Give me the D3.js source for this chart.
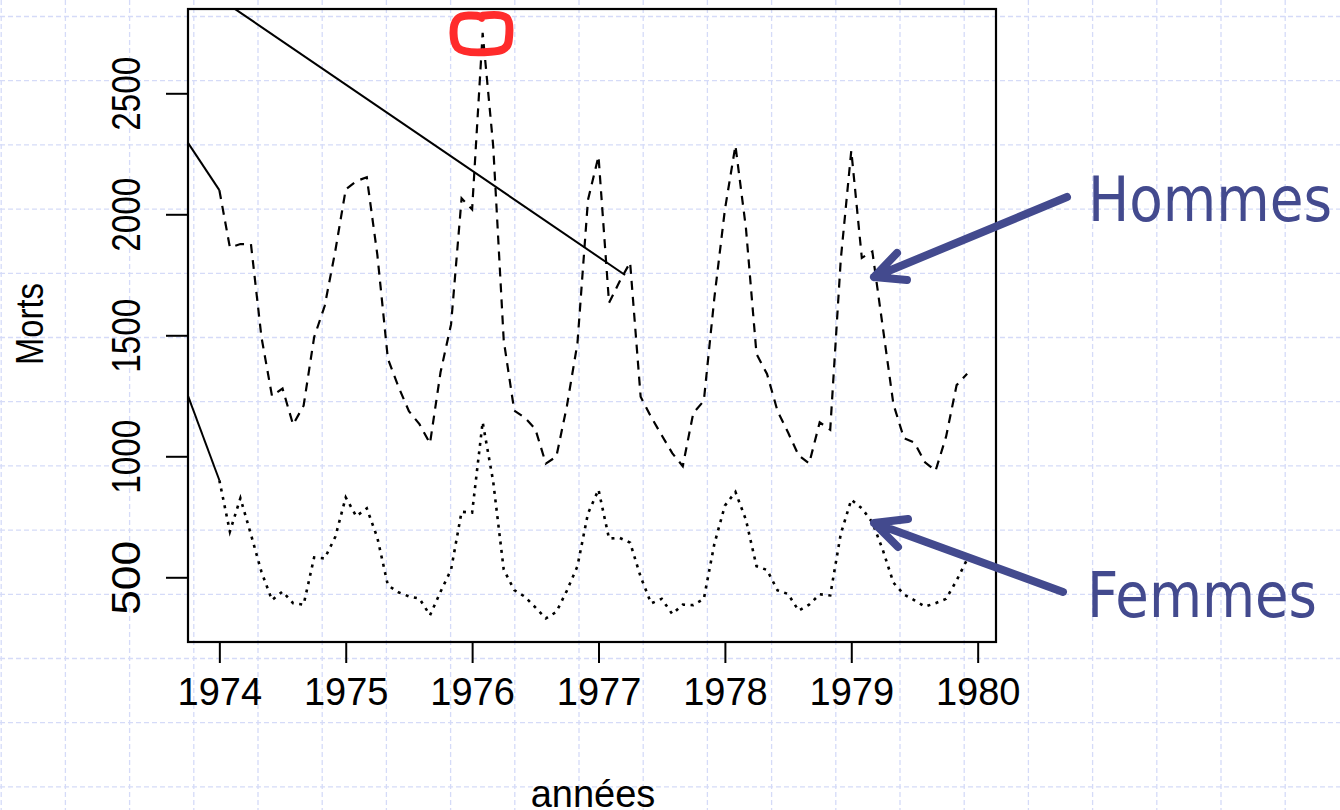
<!DOCTYPE html>
<html>
<head>
<meta charset="utf-8">
<script src="https://cdn.jsdelivr.net/npm/d3@7"></script>
<style>
  html, body { margin: 0; padding: 0; background: #fff; }
  svg { display: block; }
</style>
</head>
<body>
<svg id="chart" width="1340" height="810"></svg>
<script>
// monthly deaths, Jan 1974 .. Dec 1979
var years = [1974, 1975, 1976, 1977, 1978, 1979];
var hommes = [
  2100, 1863, 1877, 1877, 1492, 1249, 1280, 1131, 1209, 1492, 1621, 1846,
  2103, 2137, 2153, 1833, 1403, 1288, 1186, 1133, 1053, 1347, 1545, 2066,
  2020, 2750, 2283, 1479, 1189, 1160, 1113, 970, 999, 1208, 1467, 2059,
  2240, 1634, 1722, 1801, 1246, 1162, 1087, 1013, 959, 1179, 1229, 1655,
  2019, 2284, 1942, 1423, 1340, 1187, 1098, 1004, 970, 1140, 1110, 1812,
  2263, 1820, 1846, 1531, 1215, 1075, 1056, 975, 940, 1081, 1294, 1341
];
var femmes = [
  901, 689, 827, 677, 522, 406, 441, 393, 387, 582, 578, 666,
  830, 752, 785, 664, 467, 438, 421, 412, 343, 440, 531, 771,
  767, 1141, 896, 532, 447, 420, 376, 330, 357, 445, 546, 764,
  862, 660, 663, 643, 502, 392, 411, 348, 387, 385, 411, 638,
  796, 853, 737, 546, 530, 446, 431, 362, 387, 430, 425, 679,
  821, 785, 727, 612, 478, 429, 405, 379, 393, 411, 487, 574
];
// stray solid segments seen in the picture (year, deaths)
var leadHommes = [[1973.752, 2295], [1974, 2100]];
var leadFemmes = [[1973.752, 1250], [1974, 901]];
var trendLine = [[1974.125, 2848], [1977.21, 1749]];

var xTicks = [1974, 1975, 1976, 1977, 1978, 1979, 1980];
var yTicks = [500, 1000, 1500, 2000, 2500];
var peak = [1976 + 1 / 12, 2750];

var svg = d3.select("#chart"),
  width = +svg.attr("width"),
  height = +svg.attr("height");

var plot = {left: 188, top: 9, right: 996, bottom: 642};

var x = d3.scaleLinear().domain([1973.752, 1980.145]).range([plot.left, plot.right]);
var y = d3.scaleLinear().domain([232.6, 2848.3]).range([plot.bottom, plot.top]);

// slide background grid
var grid = svg.append("g").attr("class", "grid")
  .attr("stroke", "#d5dbf8")
  .attr("stroke-width", 1.3)
  .attr("stroke-dasharray", "5,3");
grid.selectAll(".gv").data(d3.range(1.2, width, 64.2)).enter().append("line")
  .attr("x1", function(d) { return d; }).attr("x2", function(d) { return d; })
  .attr("y1", 0).attr("y2", height);
grid.selectAll(".gh").data(d3.range(16.5, height, 64.2)).enter().append("line")
  .attr("y1", function(d) { return d; }).attr("y2", function(d) { return d; })
  .attr("x1", 0).attr("x2", width);

svg.append("defs").append("clipPath").attr("id", "clip")
  .append("rect")
  .attr("x", plot.left).attr("y", plot.top)
  .attr("width", plot.right - plot.left).attr("height", plot.bottom - plot.top);

function monthly(vals) {
  return vals.map(function(v, i) { return [years[0] + i / 12, v]; });
}

var line = d3.line()
  .x(function(d) { return x(d[0]); })
  .y(function(d) { return y(d[1]); });

var g = svg.append("g").attr("clip-path", "url(#clip)")
  .attr("fill", "none").attr("stroke", "#000");

g.append("path").datum(monthly(hommes))
  .attr("d", line)
  .attr("stroke-width", 2.2)
  .attr("stroke-dasharray", "9,7");

g.append("path").datum(monthly(femmes))
  .attr("d", line)
  .attr("stroke-width", 2.6)
  .attr("stroke-dasharray", "3,5.5");

[leadHommes, leadFemmes, trendLine].forEach(function(seg) {
  g.append("path").datum(seg)
    .attr("d", line)
    .attr("stroke-width", 2);
});

// frame
svg.append("rect")
  .attr("x", plot.left).attr("y", plot.top)
  .attr("width", plot.right - plot.left).attr("height", plot.bottom - plot.top)
  .attr("fill", "none").attr("stroke", "#000").attr("stroke-width", 2.2);

// x axis
var xAxis = svg.append("g")
  .attr("transform", "translate(0," + plot.bottom + ")")
  .call(d3.axisBottom(x).tickValues(xTicks).tickFormat(d3.format("d"))
    .tickSize(21).tickPadding(42));
xAxis.select(".domain").remove();
xAxis.selectAll("line").attr("stroke", "#000").attr("stroke-width", 2);
xAxis.selectAll("text")
  .attr("fill", "#000")
  .attr("dy", 0)
  .style("font-family", "'Liberation Sans', Arial, sans-serif")
  .style("font-size", "38px");

// y axis
var yAxis = svg.append("g")
  .attr("transform", "translate(" + plot.left + ",0)")
  .call(d3.axisLeft(y).tickValues(yTicks).tickFormat(d3.format("d")).tickSize(22));
yAxis.select(".domain").remove();
yAxis.selectAll("line").attr("stroke", "#000").attr("stroke-width", 2);
yAxis.selectAll("text")
  .attr("x", null).attr("dy", null)
  .attr("fill", "#000")
  .attr("text-anchor", "middle")
  .attr("transform", "translate(-48,0) rotate(-90)")
  .attr("textLength", 74)
  .attr("lengthAdjust", "spacingAndGlyphs")
  .style("font-family", "'Liberation Sans', Arial, sans-serif")
  .style("font-size", "40px");

// axis titles
svg.append("text")
  .attr("transform", "translate(43," + 324 + ") rotate(-90)")
  .attr("text-anchor", "middle")
  .attr("textLength", 82)
  .attr("lengthAdjust", "spacingAndGlyphs")
  .style("font-family", "'Liberation Sans', Arial, sans-serif")
  .style("font-size", "39px")
  .text("Morts");

svg.append("text")
  .attr("x", 593).attr("y", 807)
  .attr("text-anchor", "middle")
  .style("font-family", "'Liberation Sans', Arial, sans-serif")
  .style("font-size", "38px")
  .text("années");

// red mark round the peak
var px = x(peak[0]), py = y(peak[1]);
svg.append("path")
  .attr("transform", "translate(" + px + "," + py + ")")
  .attr("d", "M-1,-16 C-8,-18 -21,-18 -25,-14 C-31,-8 -30,9 -25,15 C-20,20 -4,20 8,19 " +
    "C18,18 25,17 26,8 C27,0 28,-11 24,-15 C19,-19 7,-18 0,-17 L-1,-15")
  .attr("fill", "none")
  .attr("stroke", "#ff2b2b")
  .attr("stroke-width", 8)
  .attr("stroke-linecap", "round")
  .attr("stroke-linejoin", "round");

// annotations
var blue = "#434a8e";
var notes = svg.append("g")
  .attr("fill", "none").attr("stroke", blue)
  .attr("stroke-width", 8).attr("stroke-linecap", "round").attr("stroke-linejoin", "round");
notes.append("path").attr("d", "M1067,197 L874,277 M897,253 L874,277 L907,280");
notes.append("path").attr("d", "M1063,592 L874,523 M908,519 L874,523 L898,547");

svg.append("text")
  .attr("x", 1088).attr("y", 221)
  .attr("fill", blue)
  .attr("textLength", 244)
  .attr("lengthAdjust", "spacingAndGlyphs")
  .style("font-family", "'DejaVu Sans', Verdana, sans-serif")
  .style("font-size", "63px")
  .text("Hommes");

svg.append("text")
  .attr("x", 1087).attr("y", 617)
  .attr("fill", blue)
  .attr("textLength", 230)
  .attr("lengthAdjust", "spacingAndGlyphs")
  .style("font-family", "'DejaVu Sans', Verdana, sans-serif")
  .style("font-size", "63px")
  .text("Femmes");
</script>
</body>
</html>
